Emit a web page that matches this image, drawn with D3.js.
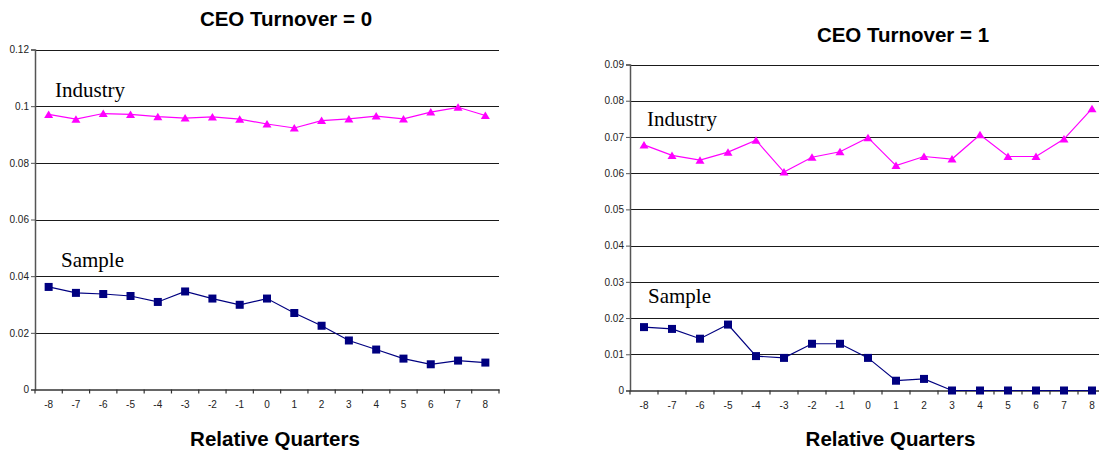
<!DOCTYPE html>
<html>
<head>
<meta charset="utf-8">
<script src="https://cdn.jsdelivr.net/npm/d3@7"></script>
<style>
  html, body { margin: 0; padding: 0; background: #fff; overflow: hidden; }
  svg { display: block; }
</style>
</head>
<body>
<svg id="chart" width="1099" height="454"></svg>
<script>
// ---- Data ----
const quarters = ["-8","-7","-6","-5","-4","-3","-2","-1","0","1","2","3","4","5","6","7","8"];

const industry0 = [0.0971,0.0954,0.0974,0.0971,0.0963,0.0958,0.0962,0.0954,0.0937,0.0923,0.0949,0.0955,0.0965,0.0955,0.0979,0.0996,0.0967];
const sample0   = [0.0362,0.0341,0.0337,0.0330,0.0309,0.0346,0.0321,0.0299,0.0321,0.0270,0.0225,0.0173,0.0141,0.0109,0.0089,0.0102,0.0095];

const industry1 = [0.0678,0.0649,0.0636,0.0658,0.0691,0.0603,0.0644,0.0659,0.0698,0.0621,0.0646,0.0639,0.0706,0.0646,0.0646,0.0694,0.0778];
const sample1   = [0.0175,0.0170,0.0143,0.0182,0.0095,0.0090,0.0129,0.0129,0.0090,0.0027,0.0032,0,0,0,0,0,0];

const yTicks0 = [0,0.02,0.04,0.06,0.08,0.1,0.12];
const yTicks1 = [0,0.01,0.02,0.03,0.04,0.05,0.06,0.07,0.08,0.09];

const titles = ["CEO Turnover = 0","CEO Turnover = 1"];
const xTitle = "Relative Quarters";
const seriesLabels = ["Industry","Sample"];

// ---- Layout ----
const svg = d3.select("#chart");

const panels = [
  { title: titles[0], industry: industry0, sample: sample0, ticks: yTicks0, ymax: 0.12,
    left: 35, right: 499, top: 49.5, bottom: 389.5,
    titleX: 286, titleY: 26, xtitleX: 275,
    indLabel: [55, 97], smpLabel: [61, 266.5] },
  { title: titles[1], industry: industry1, sample: sample1, ticks: yTicks1, ymax: 0.09,
    left: 630, right: 1106, top: 64.5, bottom: 390.5,
    titleX: 903, titleY: 42, xtitleX: 890.5,
    indLabel: [647, 126], smpLabel: [648, 303] }
];

const fmt = d => d === 0 ? "0" : String(+d.toFixed(2));

panels.forEach(p => {
  const g = svg.append("g");
  const x = d3.scaleBand().domain(quarters).range([p.left, p.right]);
  const y = d3.scaleLinear().domain([0, p.ymax]).range([p.bottom, p.top]);
  const cx = q => x(q) + x.bandwidth() / 2;

  // gridlines
  g.append("g").selectAll("line").data(p.ticks.filter(t => t > 0)).join("line")
    .attr("x1", p.left).attr("x2", p.right)
    .attr("y1", d => Math.round(y(d)) + 0.5).attr("y2", d => Math.round(y(d)) + 0.5)
    .attr("stroke", "#1a1a1a").attr("stroke-width", 1);

  // y axis
  const yAxis = d3.axisLeft(y).tickValues(p.ticks).tickFormat(fmt).tickSize(4).tickPadding(2);
  const ya = g.append("g").attr("transform", `translate(${p.left},0)`).call(yAxis);
  ya.select(".domain").attr("stroke", "#555").attr("stroke-width", 1.5);
  ya.selectAll(".tick line").attr("stroke", "#555");
  ya.selectAll(".tick text").attr("font-family", "Arial, 'Liberation Sans', sans-serif")
    .attr("font-size", 10).attr("fill", "#222");

  // x axis
  const xa = g.append("g").attr("transform", `translate(0,${p.bottom})`)
    .call(d3.axisBottom(x).tickSize(0).tickPadding(11));
  xa.select(".domain").attr("stroke", "#333").attr("stroke-width", 1.5);
  xa.selectAll(".tick text").attr("font-family", "Arial, 'Liberation Sans', sans-serif")
    .attr("font-size", 10).attr("fill", "#222");
  // tick marks at category boundaries
  const bounds = quarters.map(q => x(q)).concat([p.right]);
  xa.append("g").selectAll("line").data(bounds).join("line")
    .attr("x1", d => d).attr("x2", d => d).attr("y1", 0).attr("y2", 4)
    .attr("stroke", "#333").attr("stroke-width", 1.2);

  const line = d3.line().x((d, i) => cx(quarters[i])).y(d => y(d));

  // industry series
  g.append("path").datum(p.industry).attr("d", line)
    .attr("fill", "none").attr("stroke", "#FF00FF").attr("stroke-width", 1.2);
  g.append("g").selectAll("path").data(p.industry).join("path")
    .attr("d", "M0,-4L4.5,3.5L-4.5,3.5Z")
    .attr("transform", (d, i) => `translate(${cx(quarters[i])},${y(d)})`)
    .attr("fill", "#FF00FF");

  // sample series
  g.append("path").datum(p.sample).attr("d", line)
    .attr("fill", "none").attr("stroke", "#000080").attr("stroke-width", 1.2);
  g.append("g").selectAll("rect").data(p.sample).join("rect")
    .attr("x", (d, i) => cx(quarters[i]) - 4).attr("y", d => y(d) - 4)
    .attr("width", 8).attr("height", 8).attr("fill", "#000080");

  // series labels
  g.append("text").attr("x", p.indLabel[0]).attr("y", p.indLabel[1])
    .attr("font-family", "'Times New Roman', 'Liberation Serif', serif").attr("font-size", 21)
    .attr("fill", "#000").text(seriesLabels[0]);
  g.append("text").attr("x", p.smpLabel[0]).attr("y", p.smpLabel[1])
    .attr("font-family", "'Times New Roman', 'Liberation Serif', serif").attr("font-size", 21)
    .attr("fill", "#000").text(seriesLabels[1]);

  // titles
  g.append("text").attr("x", p.titleX).attr("y", p.titleY).attr("text-anchor", "middle")
    .attr("font-family", "Arial, 'Liberation Sans', sans-serif").attr("font-weight", "bold")
    .attr("font-size", 20.5).attr("fill", "#000").text(p.title);
  g.append("text").attr("x", p.xtitleX).attr("y", 446).attr("text-anchor", "middle")
    .attr("font-family", "Arial, 'Liberation Sans', sans-serif").attr("font-weight", "bold")
    .attr("font-size", 20.5).attr("fill", "#000").text(xTitle);
});
</script>
</body>
</html>
